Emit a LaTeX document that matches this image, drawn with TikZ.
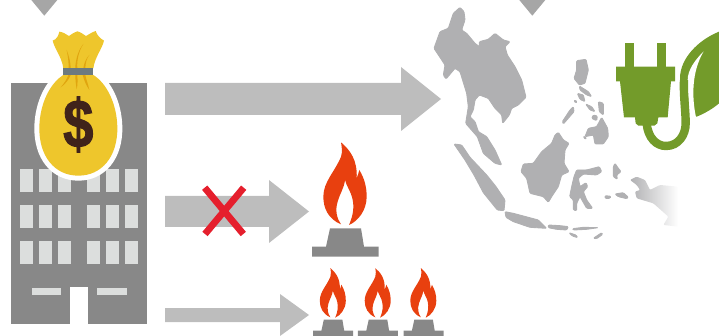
\documentclass[tikz,border=0pt]{standalone}
\usepackage{fontspec}
\setmainfont{Liberation Sans}
\newfontfamily\dollarfont[FakeBold=1.6]{Liberation Sans Bold}
\definecolor{arrowgray}{HTML}{BDBDBD}
\definecolor{towergray}{HTML}{888888}
\definecolor{pane}{HTML}{DCDEDD}
\definecolor{mapgray}{HTML}{B0B0B2}
\definecolor{plantgreen}{HTML}{739B2A}
\definecolor{flamered}{HTML}{E8400F}
\definecolor{bagyellow}{HTML}{EEC62C}
\definecolor{foldorange}{HTML}{E0A50F}
\definecolor{dollarbrown}{HTML}{40231A}
\definecolor{bandgray}{HTML}{6C7A80}
\definecolor{crossred}{HTML}{E51F2D}
\definecolor{marker}{HTML}{A6A6A6}
\tikzset{
  flow/.style={fill=arrowgray,draw=none},
  pane/.style={fill=pane,draw=none},
  land/.style={fill=mapgray,draw=mapgray,line width=0.9pt,line join=round,rounded corners=1pt},
  plant/.style={fill=plantgreen,draw=none},
  burnerbase/.style={fill=towergray,draw=none},
  flame/.style={fill=flamered,draw=none},
  crossbar/.style={draw=crossred,line width=6.8pt},
}
\newcommand{\burnerpic}[3]{%
  \begin{scope}[shift={(#1,#2)},scale=#3/3]
    \fill[flame] (-12,-2) .. controls (-50,-18) and (-65,-50) .. (-65,-85)
      .. controls (-65,-130) and (-30,-160) .. (-12,-205)
      .. controls (-7,-220) and (-10,-235) .. (-12,-248)
      .. controls (15,-225) and (38,-195) .. (35,-140)
      .. controls (38,-150) and (42,-158) .. (43,-165)
      .. controls (58,-140) and (65,-115) .. (65,-85)
      .. controls (65,-45) and (40,-12) .. (12,0)
      .. controls (25,-30) and (28,-55) .. (22,-80)
      .. controls (18,-100) and (5,-115) .. (0,-135)
      .. controls (-3,-110) and (-15,-95) .. (-22,-70)
      .. controls (-30,-45) and (-25,-20) .. (-12,-2) -- cycle;
    \fill[burnerbase] (-45,10) -- (48,10) -- (57,65) -- (101,65) -- (101,95) -- (-99,95) -- (-99,65) -- (-57,65) -- cycle;
  \end{scope}}
\begin{document}
\begin{tikzpicture}[x=1pt,y=-1pt]
\useasboundingbox (0,0) rectangle (719,336);
\clip (0,0) rectangle (719,336);
% markers at the top
\fill[marker] (31.3,0) -- (57.3,0) -- (44.3,15.7) -- cycle;
\fill[marker] (519.3,0) -- (545.3,0) -- (532.3,15.7) -- cycle;
% arrows
\fill[flow] (165,83) -- (401,83) -- (401,67) -- (441,99) -- (401,131) -- (401,115) -- (165,115) -- cycle;
\fill[flow] (165,196) -- (269,196) -- (269,180) -- (309,211.5) -- (269,243) -- (269,227) -- (165,227) -- cycle;
\fill[flow] (165,308) -- (280,308) -- (280,294) -- (309,315) -- (280,336) -- (280,322) -- (165,322) -- cycle;
% cross
\draw[crossbar] (204.7,187.7) -- (243.3,234);
\draw[crossbar] (243.7,187.7) -- (205,234);
% burners
\burnerpic{345}{225}{1}
\burnerpic{332.8}{317.7}{0.6}
\burnerpic{377.7}{317.7}{0.6}
\burnerpic{423.3}{317.7}{0.6}
% tower
\fill[towergray] (11,83) rectangle (147,324);
\foreach \yy in {169.3,205.3,241.3}
  \foreach \xx in {20.3,39.3,58.3,86.7,105.7,124.7}
    \fill[pane] (\xx,\yy) rectangle +(13,23);
\fill[pane] (31.7,288.3) rectangle (61,294.7);
\fill[pane] (97,288.3) rectangle (126.7,294.7);
\fill[white] (70.3,287.3) rectangle (88,324);
% money bag
\begin{scope}[scale=1/3]
  \path[fill=white,draw=white,line width=10pt,line join=round]
    (190,225) .. controls (150,250) and (120,310) .. (118,380)
    .. controls (116,470) and (165,527) .. (235,527)
    .. controls (305,527) and (354,470) .. (352,380)
    .. controls (350,310) and (320,250) .. (280,225) -- cycle;
  \fill[bagyellow] (190,225) .. controls (150,250) and (120,310) .. (118,380)
    .. controls (116,470) and (165,527) .. (235,527)
    .. controls (305,527) and (354,470) .. (352,380)
    .. controls (350,310) and (320,250) .. (280,225) -- cycle;
  \fill[bagyellow] (190,205) .. controls (185,170) and (165,150) .. (158,122)
    .. controls (170,118) and (175,108) .. (178,95)
    .. controls (188,96) and (198,102) .. (207,108)
    .. controls (215,102) and (224,96) .. (232,94)
    .. controls (240,96) and (250,102) .. (258,108)
    .. controls (268,102) and (278,96) .. (287,93)
    .. controls (292,108) and (302,116) .. (312,122)
    .. controls (305,150) and (285,170) .. (280,205) -- cycle;
  \fill[foldorange] (200,150) .. controls (208,170) and (212,190) .. (212,205) -- (206,205) .. controls (206,185) and (204,170) .. (200,150) -- cycle;
  \fill[foldorange] (250,132) .. controls (235,155) and (230,185) .. (232,205) -- (226,205) .. controls (226,180) and (235,150) .. (250,132) -- cycle;
  \fill[foldorange] (268,165) .. controls (260,175) and (256,190) .. (256,205) -- (250,205) .. controls (252,190) and (258,175) .. (268,165) -- cycle;
  \fill[foldorange] (205,225) .. controls (200,240) and (192,250) .. (182,262) .. controls (194,254) and (206,240) .. (212,225) -- cycle;
  \fill[foldorange] (226,225) .. controls (226,240) and (228,255) .. (230,268) .. controls (233,255) and (233,240) .. (232,225) -- cycle;
  \fill[foldorange] (248,225) .. controls (252,240) and (258,255) .. (268,270) .. controls (264,250) and (258,238) .. (256,225) -- cycle;
  \fill[bandgray] (190,205) rectangle (280,225);
\end{scope}
\node[inner sep=0pt,text=dollarbrown,font=\dollarfont\fontsize{68}{68}\selectfont] (dollar) at (78.3,124.5) {\scalebox{0.8}[1]{\$}};
% map and plug
\begin{scope}[shift={(420,0)},scale=1/3]
  \path[land] (120,22) -- (132,35) -- (135,60) -- (125,90) -- (140,100) -- (165,130) -- (178,140) -- (178,125) -- (205,118) -- (225,100) -- (250,120) -- (270,125) -- (255,140) -- (262,165) -- (285,200) -- (305,240) -- (318,292) -- (295,315) -- (275,325) -- (268,345) -- (248,370) -- (245,345) -- (225,325) -- (205,295) -- (178,285) -- (165,300) -- (160,330) -- (150,350) -- (165,365) -- (175,395) -- (200,410) -- (225,450) -- (245,495) -- (225,490) -- (190,460) -- (172,410) -- (150,385) -- (137,370) -- (145,320) -- (140,280) -- (120,215) -- (105,205) -- (78,237) -- (70,225) -- (75,195) -- (42,145) -- (60,95) -- (85,85) -- (100,40) -- cycle;
  % Sumatra
  \path[land] (102,432) -- (125,435) -- (150,472) -- (200,525) -- (228,560) -- (255,600) -- (252,632) -- (232,630) -- (190,578) -- (162,525) -- (135,480) -- cycle;
  % Java and lesser islands
  \path[land] (255,635) -- (280,640) -- (325,652) -- (355,660) -- (380,685) -- (330,682) -- (280,665) -- (258,652) -- cycle;
  \path[land] (385,675) -- (420,677) -- (445,680) -- (440,690) -- (410,688) -- (385,683) -- cycle;
  \path[land] (458,686) -- (490,682) -- (535,683) -- (500,688) -- (460,690) -- cycle;
  \path[land] (447,698) -- (468,705) -- (473,713) -- (457,708) -- cycle;
  \path[land] (520,715) -- (545,698) -- (548,703) -- (530,716) -- cycle;
  % Borneo
  \path[land] (415,397) -- (430,420) -- (447,430) -- (435,450) -- (432,490) -- (447,515) -- (425,525) -- (415,560) -- (395,590) -- (385,607) -- (370,590) -- (330,580) -- (320,535) -- (303,515) -- (310,492) -- (340,490) -- (365,455) -- (395,430) -- (405,405) -- cycle;
  % Sulawesi
  \path[land] (470,510) -- (500,510) -- (538,500) -- (545,515) -- (530,525) -- (490,522) -- (475,535) -- (480,560) -- (498,548) -- (503,560) -- (490,575) -- (500,600) -- (518,625) -- (500,625) -- (480,590) -- (470,610) -- (470,632) -- (460,630) -- (460,600) -- (449,590) -- (455,560) -- (462,530) -- cycle;
  % Maluku
  \path[land] (585,490) -- (595,505) -- (603,515) -- (590,525) -- (592,538) -- (580,530) -- (580,500) -- cycle;
  \path[land] (555,587) -- (573,589) -- (570,595) -- (555,595) -- cycle;
  \path[land] (585,582) -- (610,578) -- (625,592) -- (620,596) -- (595,590) -- cycle;
  % Papua, fading out
  \shade[left color=mapgray,middle color=mapgray,right color=white,rounded corners=1pt] (630,540) -- (650,530) -- (675,540) -- (690,570) -- (720,555) -- (775,560) -- (775,680) -- (730,675) -- (745,650) -- (700,610) -- (650,595) -- (645,575) -- (660,570) -- (650,555) -- cycle;
  % Philippines
  \path[land] (470,182) -- (498,178) -- (505,210) -- (495,250) -- (478,255) -- (462,235) -- (470,210) -- cycle;
  \path[land] (478,258) -- (505,275) -- (515,290) -- (500,285) -- (480,270) -- cycle;
  \path[land] (545,352) -- (563,385) -- (565,410) -- (550,432) -- (525,432) -- (520,405) -- (495,410) -- (505,385) -- (530,380) -- cycle;
  \path[land] (460,320) -- (462,335) -- (430,372) -- (427,365) -- (450,330) -- cycle;
  \path[land] (472,280) -- (490,285) -- (495,305) -- (480,298) -- cycle;
  \path[land] (497,312) -- (515,320) -- (525,335) -- (510,330) -- cycle;
  \path[land] (520,345) -- (532,348) -- (530,362) -- (515,355) -- cycle;
  \path[land] (535,305) -- (550,310) -- (550,345) -- (538,335) -- cycle;
  \path[land] (462,300) -- (472,305) -- (466,309) -- cycle;
  \path[land] (490,408) -- (500,415) -- (495,418) -- cycle;
  % leaf
  \fill[plant] (897,95) .. controls (835,120) and (780,175) .. (780,235)
    .. controls (780,280) and (800,310) .. (806,345)
    -- (830,350) .. controls (855,340) and (880,325) .. (897,310) -- cycle;
  \fill[white] (851,154) .. controls (825,180) and (803,210) .. (803,240)
    .. controls (803,280) and (808,320) .. (806,352) -- (828,352)
    .. controls (815,290) and (815,215) .. (851,154) -- cycle;
  % cord
  \draw[plantgreen,line width=8.4pt] (680,372) .. controls (685,415) and (710,438) .. (738,438)
    .. controls (775,438) and (797,405) .. (797,370)
    .. controls (797,330) and (790,290) .. (792,240);
  % plug
  \fill[plant] (614,130) rectangle (642,205);
  \fill[plant] (711,130) rectangle (739,205);
  \fill[plant] (588,200) -- (765,200) -- (765,244) -- (753,244) -- (743,352) -- (715,352) -- (712,370) -- (703,377) -- (655,377) -- (647,370) -- (645,352) -- (612,352) -- (600,244) -- (588,244) -- cycle;
\end{scope}
\end{tikzpicture}
\end{document}
